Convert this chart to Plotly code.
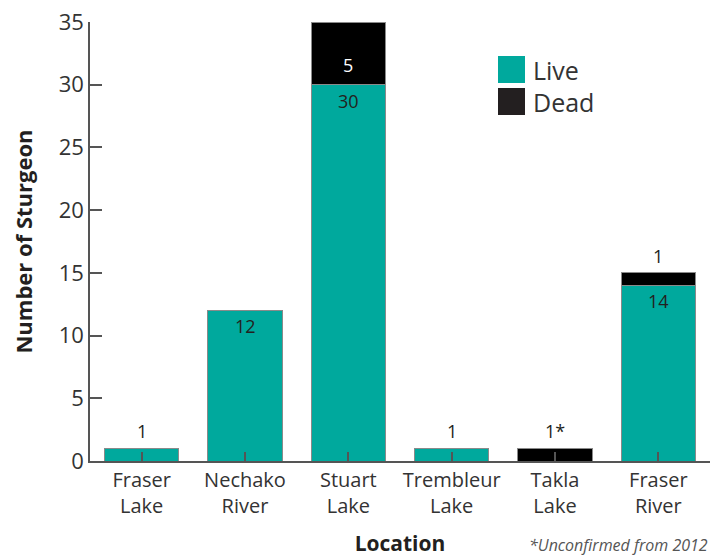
import plotly.graph_objects as go

# Sturgeon counts by location
locations = ["Fraser<br>Lake", "Nechako<br>River", "Stuart<br>Lake",
             "Trembleur<br>Lake", "Takla<br>Lake", "Fraser<br>River"]
live = [1, 12, 30, 1, 0, 14]
dead = [0, 0, 5, 0, 1, 1]
dead_note = ["", "", "", "", "*", ""]

TEAL = "#00A99D"
BLACK = "#000000"
TEXT = "#231F20"
FONT = "Open Sans"

x_idx = list(range(len(locations)))

fig = go.Figure()
fig.add_trace(go.Bar(x=x_idx, y=live, name="Live", marker=dict(color=TEAL, line=dict(color="#8a8a8a", width=1)),
                     width=0.72, showlegend=False, hoverinfo="skip"))
fig.add_trace(go.Bar(x=x_idx, y=dead, name="Dead", marker=dict(color=BLACK, line=dict(color="#8a8a8a", width=1)),
                     width=0.72, showlegend=False, hoverinfo="skip"))

annotations = []
for i, (lv, dd, note) in enumerate(zip(live, dead, dead_note)):
    total = lv + dd
    # live count
    if lv > 0:
        if lv >= 5:
            annotations.append(dict(x=i, y=lv, text=str(lv), showarrow=False, yanchor="middle",
                                    yshift=-16, font=dict(size=18, color=TEXT, family=FONT)))
        else:
            annotations.append(dict(x=i, y=total, text=str(lv), showarrow=False, yanchor="middle",
                                    yshift=17, font=dict(size=18, color=TEXT, family=FONT)))
    # dead count
    if dd > 0:
        if dd >= 3:
            annotations.append(dict(x=i, y=total, text=str(dd) + note, showarrow=False, yanchor="middle",
                                    yshift=-43, font=dict(size=18, color="#ffffff", family=FONT)))
        else:
            annotations.append(dict(x=i, y=total, text=str(dd) + note, showarrow=False, yanchor="middle",
                                    yshift=17, font=dict(size=18, color=TEXT, family=FONT)))

# legend drawn as squares with labels
legend_items = [("Live", TEAL), ("Dead", "#231F20")]
shapes = []
for k, (lab, col) in enumerate(legend_items):
    y0 = 1 - (56 - 22 + 32 * k) / 439.0
    y1 = y0 - 27 / 439.0
    shapes.append(dict(type="rect", xref="paper", yref="paper", x0=(498 - 90) / 620, x1=(525 - 90) / 620,
                       y0=y1, y1=y0, fillcolor=col, line=dict(width=0)))
    annotations.append(dict(xref="paper", yref="paper", x=(531 - 90) / 620, y=(y0 + y1) / 2, text=lab,
                            showarrow=False, xanchor="left", yanchor="middle",
                            font=dict(size=25, color="#333333", family=FONT)))

annotations.append(dict(xref="paper", yref="paper", x=1, y=-0.192, text="<i>*Unconfirmed from 2012</i>",
                        showarrow=False, xanchor="right", yanchor="middle",
                        font=dict(size=16, color="#555555", family=FONT)))

fig.update_layout(
    barmode="stack",
    width=710, height=557,
    margin=dict(l=90, r=0, t=22, b=96),
    paper_bgcolor="white", plot_bgcolor="white",
    annotations=annotations,
    shapes=shapes,
    bargap=0.28,
    xaxis=dict(
        tickmode="array", tickvals=x_idx, ticktext=locations,
        range=[-0.5, 5.5], showgrid=False, zeroline=False,
        showline=True, linecolor="#555555", linewidth=1.5,
        ticks="inside", tickson="boundaries", ticklen=9, tickcolor="#555555", tickwidth=1.5,
        tickfont=dict(size=20, color="#333333", family=FONT),
        title=dict(text="<b>Location</b>", font=dict(size=21, color=TEXT, family=FONT), standoff=22),
    ),
    yaxis=dict(
        range=[0, 35], tickvals=[0, 5, 10, 15, 20, 25, 30, 35],
        showgrid=False, zeroline=False,
        showline=True, linecolor="#555555", linewidth=1.5,
        ticks="inside", ticklen=12, tickcolor="#555555", tickwidth=1.5,
        tickfont=dict(size=22, color="#333333", family=FONT),
        title=dict(text="<b>Number of Sturgeon</b>", font=dict(size=22, color=TEXT, family=FONT), standoff=20),
    ),
)

fig.write_html("out.html")
